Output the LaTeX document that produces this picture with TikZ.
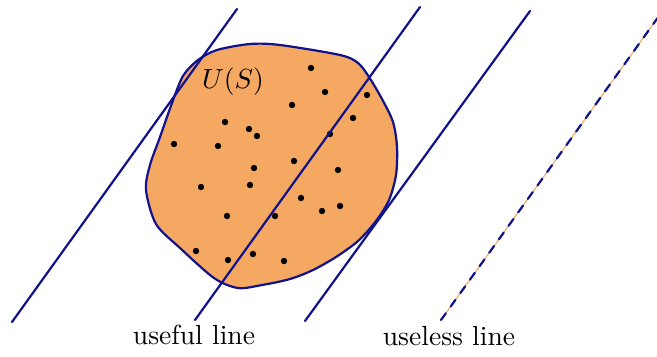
\documentclass[tikz,border=0pt]{standalone}
\usepackage{tikz}
\usetikzlibrary{positioning}
\definecolor{linenavy}{HTML}{12128A}
\definecolor{blobfill}{HTML}{F5A862}

\begin{document}
\begin{tikzpicture}[
  x=0.3623pt, y=-0.3623pt,
  sep/.style={draw=linenavy, thick, line cap=round},
  pt/.style={fill=black},
  lbl/.style={inner sep=1pt}
]
\useasboundingbox (0,0) rectangle (657,356);

% the set U(S)
\draw[draw=linenavy, thick, fill=blobfill] plot[smooth cycle, tension=0.5] coordinates {
  (217,50) (250,44) (280,45) (340,55) (358,63) (369,77) (382,99) (393,122)
  (397,147) (396,175) (389,200) (376,221) (358,241) (336,257) (313,270)
  (290,279) (262,285) (238,288) (214,278) (180,248) (156,224)
  (146,190) (150,165) (160,137) (172,103) (183,76) (198,60)};
\node (us) at (233,82) {$U(S)$};

% points of S
\foreach \p in {(311,68),(325,92),(292,105),(367,95),(353,118),(225,122),
  (249,129),(257,136),(330,134),(174,144),(218,146),(294,161),(254,168),
  (338,170),(201,187),(250,185),(301,198),(322,211),(340,206),(227,216),
  (275,216),(196,251),(228,260),(253,254),(284,261)}
  \fill[pt] \p circle (3.2);

% lines
\coordinate (a1) at (12,322);  \coordinate (a2) at (237,9);
\coordinate (b1) at (195,320); \coordinate (b2) at (420,7);
\coordinate (c1) at (305,321); \coordinate (c2) at (530,11);
\coordinate (d1) at (441,320); \coordinate (d2) at (664,9);
\draw[sep] (a1) -- (a2);
\draw[sep] (b1) -- (b2);
\draw[sep] (c1) -- (c2);
\draw[blobfill, line width=0.4pt] (d1) -- (d2);
\draw[sep, dashed] (d1) -- (d2);

\node[lbl] (useful) at (194,335) {useful line};
\node[lbl] (useless) at (449,336) {useless line};
\end{tikzpicture}
\end{document}
